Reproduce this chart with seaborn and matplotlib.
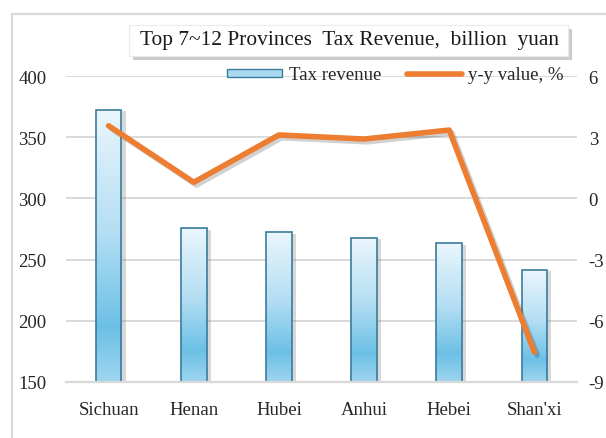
import matplotlib
matplotlib.use('Agg')
from matplotlib import pyplot as plt
from matplotlib import patheffects as pe
from matplotlib.colors import LinearSegmentedColormap
from matplotlib.patches import Rectangle, Patch
from matplotlib.lines import Line2D
import numpy as np
import pandas as pd
import seaborn as sns

# values
provinces = ['Sichuan', 'Henan', 'Hubei', 'Anhui', 'Hebei', "Shan'xi"]
tax_revenue = [372.5, 275.6, 272.3, 267.9, 263.2, 241.5]
yy_change = [3.56, 0.79, 3.11, 2.91, 3.35, -7.54]
left_ticks = [150, 200, 250, 300, 350, 400]
right_ticks = [-9, -6, -3, 0, 3, 6]

df = pd.DataFrame({'Province': provinces, 'Tax': tax_revenue, 'YY': yy_change})

sns.set_style('white')
plt.rcParams['font.family'] = ['Liberation Serif', 'DejaVu Serif']
plt.rcParams['axes.unicode_minus'] = False

BAR_EDGE = '#3b7b9c'
ORANGE = '#ed7d31'
GRID = '#d9d9d9'
TXT = '#262626'
YMIN, YMAX = 150, 400

fig = plt.figure(figsize=(6.06, 4.39), dpi=100)
ax = fig.add_axes([0.109, 0.1276, 0.843, 0.697])

sns.barplot(data=df, x='Province', y='Tax', ax=ax, width=0.3,
            color='white', edgecolor='none', linewidth=0, zorder=2)
ax.set_ylim(YMIN, YMAX)
ax.set_yticks(left_ticks)
ax.set_xlim(-0.5, len(provinces) - 0.5)

# vertical gradient in each bar, light at the top and darker toward the bottom
cmap = LinearSegmentedColormap.from_list(
    'bar', [(0.0, '#9fd5ef'), (0.2, '#6cc0e6'), (0.55, '#b4def3'), (1.0, '#eaf6fc')])
grad = np.linspace(0, 1, 256).reshape(-1, 1)
for p in list(ax.patches):
    x0, w = p.get_x(), p.get_width()
    top = p.get_y() + p.get_height()
    # visible part of the bar only
    p.set_y(YMIN)
    p.set_height(top - YMIN)
    p.set_path_effects([pe.SimplePatchShadow(offset=(3, -1), shadow_rgbFace='#7f7f7f', alpha=0.3),
                        pe.Normal()])
    im = ax.imshow(grad, extent=[x0, x0 + w, YMIN, top], origin='lower',
                   cmap=cmap, aspect='auto', zorder=2.5)
    im.set_clip_path(p)
    ax.add_patch(Rectangle((x0, YMIN), w, top - YMIN, facecolor='none',
                           edgecolor=BAR_EDGE, linewidth=1.2, zorder=3))

ax.yaxis.grid(True, color=GRID, linewidth=1.4, zorder=0)
ax.set_axisbelow(True)
for s in ['top', 'left', 'right']:
    ax.spines[s].set_visible(False)
ax.spines['bottom'].set_color(GRID)
ax.spines['bottom'].set_linewidth(1.6)
ax.spines['bottom'].set_zorder(3.5)
ax.tick_params(axis='both', length=0, labelsize=13.5, colors=TXT)
ax.tick_params(axis='y', pad=14)
ax.tick_params(axis='x', pad=13.5)
ax.set_xlabel('')
ax.set_ylabel('')

ax2 = ax.twinx()
sns.lineplot(data=df, x='Province', y='YY', ax=ax2, sort=False, color=ORANGE,
             linewidth=4, zorder=4,
             path_effects=[pe.SimpleLineShadow(offset=(2, -2), alpha=0.18), pe.Normal()])
ax2.set_ylim(-9, 6)
ax2.set_yticks(right_ticks)
ax2.set_ylabel('')
for s in ax2.spines.values():
    s.set_visible(False)
ax2.tick_params(axis='y', length=0, labelsize=13.5, colors=TXT, pad=8.5)

# legend at the top of the plot area
handles = [Patch(facecolor='#a9daf1', edgecolor=BAR_EDGE, linewidth=1),
           Line2D([], [], color=ORANGE, linewidth=4)]
fig.legend(handles, ['Tax revenue', 'y-y value, %'], loc='center',
           bbox_to_anchor=(395.5 / 606, 1 - 76 / 439), ncol=2, frameon=False,
           fontsize=13.5, handlelength=2.95, handleheight=0.3, columnspacing=1.35,
           handletextpad=0.35, labelcolor=TXT, borderpad=0, borderaxespad=0)

# outer chart border (cropped in the reference)
fig.add_artist(Rectangle((12 / 606, -0.1), 1.2, 1 - 15 / 439 + 0.1, transform=fig.transFigure,
                         facecolor='none', edgecolor=GRID, linewidth=1.6))

# title box with a soft shadow
box = Rectangle((129 / 606, 1 - 57 / 439), 439 / 606, 31 / 439, transform=fig.transFigure,
                facecolor='white', edgecolor='#ececec', linewidth=0.8, zorder=5)
box.set_path_effects([pe.SimplePatchShadow(offset=(3, -3), shadow_rgbFace='#808080', alpha=0.4),
                      pe.Normal()])
fig.add_artist(box)
fig.text(350 / 606, 1 - 40 / 439, 'Top 7~12 Provinces  Tax Revenue,  billion  yuan',
         ha='center', va='center', fontsize=15.4, color='#1a1a1a', zorder=6)

fig.savefig('out.png', dpi=100)
